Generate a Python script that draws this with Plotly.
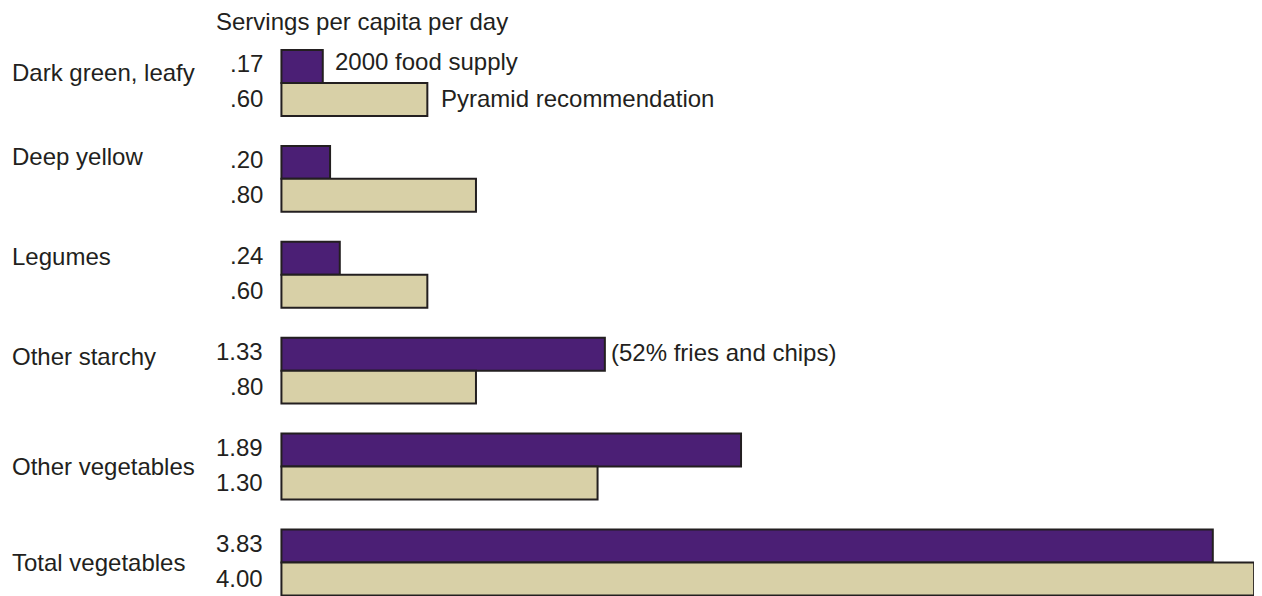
import plotly.graph_objects as go

categories = ["Dark green, leafy", "Deep yellow", "Legumes", "Other starchy",
              "Other vegetables", "Total vegetables"]
supply_2000 = [0.17, 0.20, 0.24, 1.33, 1.89, 3.83]
pyramid_rec = [0.60, 0.80, 0.60, 0.80, 1.30, 4.00]
supply_labels = [".17", ".20", ".24", "1.33", "1.89", "3.83"]
pyramid_labels = [".60", ".80", ".60", ".80", "1.30", "4.00"]

PURPLE = "#4B1F75"
TAN = "#D8D0A7"
OUTLINE = "#231F20"
TXT = "#231F20"
FONT = "Liberation Sans, Arial, Helvetica, sans-serif"
FS = 24

fig = go.Figure()
fig.add_trace(go.Bar(y=categories, x=supply_2000, orientation="h", name="2000 food supply",
                     marker=dict(color=PURPLE, line=dict(color=OUTLINE, width=2))))
fig.add_trace(go.Bar(y=categories, x=pyramid_rec, orientation="h", name="Pyramid recommendation",
                     marker=dict(color=TAN, line=dict(color=OUTLINE, width=2))))

ann = []
# category labels (slight upward offset to sit near upper bar)
label_up = [10, 22, 18, 14, 0, 0]
for c, up in zip(categories, label_up):
    ann.append(dict(x=0, xref="paper", y=c, yref="y", text=c, showarrow=False,
                    xanchor="left", xshift=-269, yshift=up,
                    font=dict(size=FS, color=TXT, family=FONT)))
# value labels
for c, a, b in zip(categories, supply_labels, pyramid_labels):
    ann.append(dict(x=0, y=c, text=a, showarrow=False, xanchor="right", xshift=-16,
                    yshift=19, font=dict(size=FS, color=TXT, family=FONT)))
    ann.append(dict(x=0, y=c, text=b, showarrow=False, xanchor="right", xshift=-16,
                    yshift=-16, font=dict(size=FS, color=TXT, family=FONT)))
# series labels
ann.append(dict(x=supply_2000[0], y=categories[0], text="2000 food supply", showarrow=False,
                xanchor="left", xshift=10, yshift=21, font=dict(size=FS, color=TXT, family=FONT)))
ann.append(dict(x=pyramid_rec[0], y=categories[0], text="Pyramid recommendation", showarrow=False,
                xanchor="left", xshift=12, yshift=-16, font=dict(size=FS, color=TXT, family=FONT)))
ann.append(dict(x=supply_2000[3], y=categories[3], text="(52% fries and chips)", showarrow=False,
                xanchor="left", xshift=4, yshift=18, font=dict(size=FS, color=TXT, family=FONT)))
# title
ann.append(dict(x=0, xref="paper", y=1, yref="paper", text="Servings per capita per day",
                showarrow=False, xanchor="left", yanchor="bottom", xshift=-64, yshift=-1,
                borderpad=0, font=dict(size=FS, color=TXT, family=FONT)))

fig.update_layout(
    width=1254, height=588,
    margin=dict(l=271, r=3, t=27, b=0),
    paper_bgcolor="white", plot_bgcolor="white",
    barmode="group", bargap=0.3125, bargroupgap=0,
    showlegend=False,
    xaxis=dict(range=[-0.01, 4.02], showticklabels=False, showgrid=False, zeroline=False,
               showline=False),
    yaxis=dict(range=[5.35, -0.5], showticklabels=False, showgrid=False, zeroline=False,
               showline=False, type="category"),
    annotations=ann,
    font=dict(family=FONT, color=TXT),
)

fig.write_html("out.html")
